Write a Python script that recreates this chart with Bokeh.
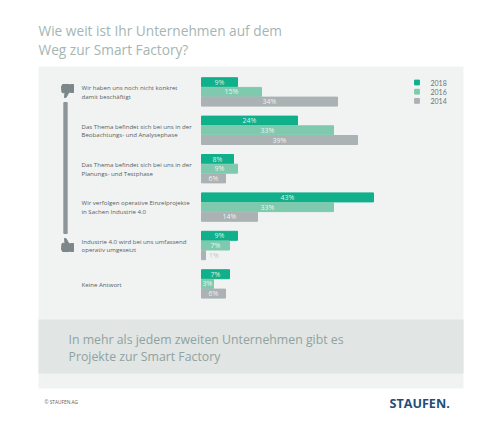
from bokeh.plotting import figure
from bokeh.models import Range1d, ColumnDataSource, LabelSet, Label, BoxAnnotation
from bokeh.core.properties import value
from bokeh.embed import file_html
from bokeh.resources import INLINE

categories = [
    ["Wir haben uns noch nicht konkret", "damit beschäftigt"],
    ["Das Thema befindet sich bei uns in der", "Beobachtungs- und Analysephase"],
    ["Das Thema befindet sich bei uns in der", "Planungs- und Testphase"],
    ["Wir verfolgen operative Einzelprojekte", "in Sachen Industrie 4.0"],
    ["Industrie 4.0 wird bei uns umfassend", "operativ umgesetzt"],
    ["Keine Antwort"],
]
years = ["2018", "2016", "2014"]
values_2018 = [9, 24, 8, 43, 9, 7]
values_2016 = [15, 33, 9, 33, 7, 3]
values_2014 = [34, 39, 6, 14, 1, 6]
colors = ["#0fb08a", "#7fcaae", "#abb2b3"]
title_lines = ["Wie weit ist Ihr Unternehmen auf dem", "Weg zur Smart Factory?"]
band_lines = ["In mehr als jedem zweiten Unternehmen gibt es", "Projekte zur Smart Factory"]

X0, PX = 201, 4.0       # image px of 0 %, px per %
def xv(px): return (px - X0) / PX

p = figure(width=492, height=413, output_backend="svg", toolbar_location=None,
           x_range=Range1d(xv(0), xv(492)), y_range=Range1d(413, 0), min_border=0)
p.axis.visible = False
p.grid.visible = False
p.outline_line_color = None
p.background_fill_color = "#ffffff"
p.border_fill_color = "#ffffff"

p.add_layout(BoxAnnotation(left=xv(38), right=xv(463), top=66, bottom=388, fill_color="#f1f3f3", fill_alpha=1, line_color=None, level="underlay"))
p.add_layout(BoxAnnotation(left=xv(38), right=xv(463), top=319, bottom=373, fill_color="#e1e5e4", fill_alpha=1, line_color=None, level="underlay"))

def label(x, y, text, size, color, font="Open Sans", align="left", style="normal"):
    p.add_layout(Label(x=xv(x), y=y, text=text, text_font=font, text_font_size=size, text_color=color,
                       text_align=align, text_baseline="middle", text_font_style=style))

for i, t in enumerate(title_lines):
    label(38, 30 + i * 19, t, "13.7px", "#a4b6b2")
for i, t in enumerate(band_lines):
    label(68, 339 + i * 17, t, "12.3px", "#8fa3a0")
label(44, 401, "© STAUFEN.AG", "4.8px", "#555b5e")
label(389, 403, "STAUFEN.", "12.6px", "#1f4e79", style="bold")

# thumbs and scale line
ICON = "#7d8689"
p.vbar(x=[xv(65)], bottom=[102], top=[233], width=3.3 / PX, color="#8d9599")
def thumb(flip, yc):
    s = 1 if flip else -1
    xs = [61, 62, 69, 69, 68, 65.5, 64, 64.5, 61.5]
    ys = [-3.5, -6, -6, 2, 2.5, 7, 7, 2.5, 2]
    p.patch([xv(x) for x in xs], [yc + s * y for y in ys], color=ICON)
    p.quad(left=[xv(70)], right=[xv(73)], top=[yc + s * -6], bottom=[yc + s * 2], color=ICON)
thumb(True, 90)
thumb(False, 245)

# bars
series = [values_2018, values_2016, values_2014]
for s, (vals, c, yr) in enumerate(zip(series, colors, years)):
    ys = [81.7 + g * 38.4 + s * 9.7 for g in range(len(vals))]
    inside = [v >= 2 for v in vals]
    src = ColumnDataSource(dict(
        y=[y for y, k in zip(ys, inside) if k],
        t=[f"{v}%" for v, k in zip(vals, inside) if k],
        mid=[v / 2 for v, k in zip(vals, inside) if k]))
    p.hbar(y=ys, right=vals, left=0, height=9, color=c)
    p.add_layout(LabelSet(x="mid", y="y", text="t", source=src, text_font=value("Open Sans"), text_font_size="7px",
                          text_color="#ffffff", text_alpha=0.85, text_align="center", text_baseline="middle"))
    out = ColumnDataSource(dict(
        y=[y for y, k in zip(ys, inside) if not k],
        x=[v + 0.9 for v, k in zip(vals, inside) if not k],
        t=[f"{v}%" for v, k in zip(vals, inside) if not k]))
    p.add_layout(LabelSet(x="x", y="y", text="t", source=out, text_font=value("Open Sans"), text_font_size="7px",
                          text_color="#c2c7c8", text_align="left", text_baseline="middle"))
    # legend
    p.rect(x=[xv(416.5)], y=[82 + s * 9.2], width=1.2, height=4.8, color=c)
    label(430, 82 + s * 9.2, yr, "7px", "#6b7376", font="Lato")

for g, lines in enumerate(categories):
    yc = 91.5 + g * 38.4
    n = len(lines)
    for j, t in enumerate(lines):
        label(81, yc + (j - (n - 1) / 2) * 8.6, t, "6.1px", "#565e61")

open("out.html", "w").write(file_html(p, INLINE))
